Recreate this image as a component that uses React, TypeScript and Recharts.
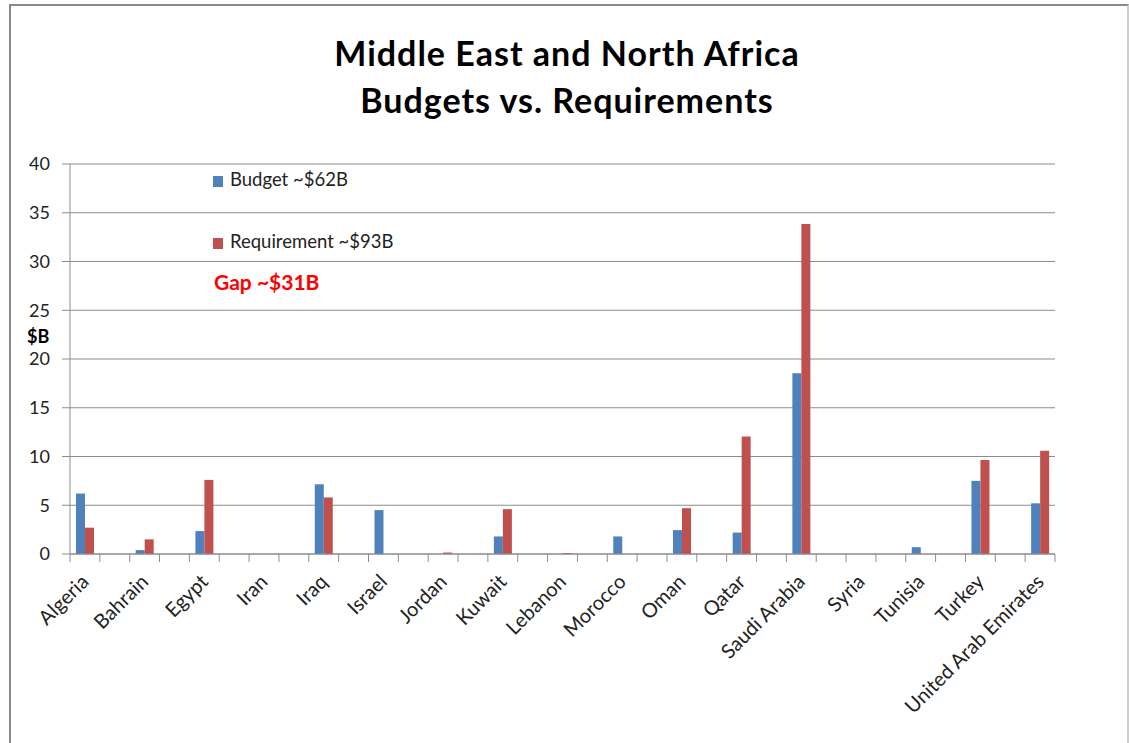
import { BarChart, Bar, XAxis, YAxis, CartesianGrid } from "recharts";

const countries = [
  "Algeria", "Bahrain", "Egypt", "Iran", "Iraq", "Israel", "Jordan", "Kuwait",
  "Lebanon", "Morocco", "Oman", "Qatar", "Saudi Arabia", "Syria", "Tunisia",
  "Turkey", "United Arab Emirates",
];
const budget = [6.2, 0.4, 2.35, 0, 7.15, 4.5, 0, 1.8, 0, 1.8, 2.45, 2.2, 18.55, 0, 0.7, 7.5, 5.2];
const requirement = [2.7, 1.5, 7.6, 0, 5.8, 0, 0.15, 4.6, 0.1, 0, 4.7, 12.05, 33.85, 0, 0, 9.65, 10.6];
const yTicks = [0, 5, 10, 15, 20, 25, 30, 35, 40];
const seriesNames = ["Budget ~$62B", "Requirement ~$93B"];
const gapText = "Gap ~$31B";

const BLUE = "#4F81BD";
const RED = "#C0504D";
const GRID = "#8c8c8c";
const FONT = "Lato, 'Noto Sans', sans-serif";

// the source sheet has a blank row between every country
const data: { name: string; budget: number | null; requirement: number | null }[] = [];
countries.forEach((c, i) => {
  if (i > 0) data.push({ name: "", budget: null, requirement: null });
  data.push({ name: c, budget: budget[i], requirement: requirement[i] });
});

const PLOT_W = 985;
const SLOT = PLOT_W / data.length;

const CountryTick = (props: any) => {
  const { x, y, payload, index } = props;
  const half = SLOT / 2;
  const tx = x + 5;
  const ty = y + 29;
  return (
    <g>
      <line x1={x - half} y1={y} x2={x - half} y2={y + 8} stroke={GRID} />
      {index === data.length - 1 && (
        <line x1={x + half} y1={y} x2={x + half} y2={y + 8} stroke={GRID} />
      )}
      {payload.value && (
        <text
          x={tx}
          y={ty}
          textAnchor="end"
          transform={`rotate(-45, ${tx}, ${ty})`}
          fontSize={20}
          fontFamily={FONT}
          fill="#222"
        >
          {payload.value}
        </text>
      )}
    </g>
  );
};

const legendRows = [
  { name: seriesNames[0], color: BLUE },
  { name: seriesNames[1], color: RED },
];

const App = () => {
  return (
    <div style={{ position: "absolute", left: 0, top: 0, width: 1129, height: 743, background: "#fff", overflow: "hidden" }}>
      <div
        style={{
          position: "absolute",
          left: 9,
          top: 4,
          width: 1116,
          height: 760,
          borderLeft: "2px solid #888",
          borderTop: "2px solid #888",
          borderRight: "2px solid #ccc",
        }}
      />
      <div
        style={{
          position: "absolute",
          left: 0,
          top: 29,
          width: 1134,
          textAlign: "center",
          fontFamily: FONT,
          fontWeight: 700,
          fontSize: 34,
          letterSpacing: 1,
          lineHeight: "47px",
          color: "#000",
        }}
      >
        Middle East and North Africa
        <br />
        Budgets vs. Requirements
      </div>
      <BarChart
        width={1129}
        height={743}
        data={data}
        margin={{ top: 164, right: 74, left: 10, bottom: 39 }}
        barGap={0}
        style={{ position: "absolute", left: 0, top: 0 }}
      >
        <CartesianGrid vertical={false} stroke={GRID} />
        <XAxis
          dataKey="name"
          interval={0}
          height={150}
          tickSize={0}
          tickMargin={0}
          axisLine={{ stroke: GRID }}
          tickLine={false}
          tick={<CountryTick />}
        />
        <YAxis
          domain={[0, 40]}
          ticks={yTicks}
          width={60}
          axisLine={{ stroke: GRID }}
          tickLine={{ stroke: GRID }}
          tickSize={8}
          tickMargin={12}
          tick={{ fill: "#222", fontSize: 18, fontFamily: FONT }}
          label={{
            value: "$B",
            position: "insideLeft",
            offset: 17,
            dy: -22,
            fontSize: 18,
            fontWeight: 700,
            fontFamily: FONT,
            fill: "#000",
          }}
        />
        <Bar dataKey="budget" name={seriesNames[0]} fill={BLUE} barSize={9} isAnimationActive={false} />
        <Bar dataKey="requirement" name={seriesNames[1]} fill={RED} barSize={9} isAnimationActive={false} />
      </BarChart>
      <div style={{ position: "absolute", left: 213, top: 169, width: 240, height: 130, fontFamily: FONT }}>
        {legendRows.map((r, i) => (
          <div
            key={r.name}
            style={{
              position: "absolute",
              left: 0,
              top: i * 62,
              height: 20,
              lineHeight: "20px",
              fontSize: 18.5,
              color: "#222",
              whiteSpace: "nowrap",
            }}
          >
            <span
              style={{
                display: "inline-block",
                width: 10,
                height: 11,
                background: r.color,
                marginRight: 7,
                verticalAlign: "-1px",
              }}
            />
            {r.name}
          </div>
        ))}
        <div
          style={{
            position: "absolute",
            left: 1,
            top: 101,
            lineHeight: "24px",
            fontSize: 21,
            fontWeight: 700,
            color: "#ff0000",
            whiteSpace: "nowrap",
          }}
        >
          {gapText}
        </div>
      </div>
    </div>
  );
};

export default App;
